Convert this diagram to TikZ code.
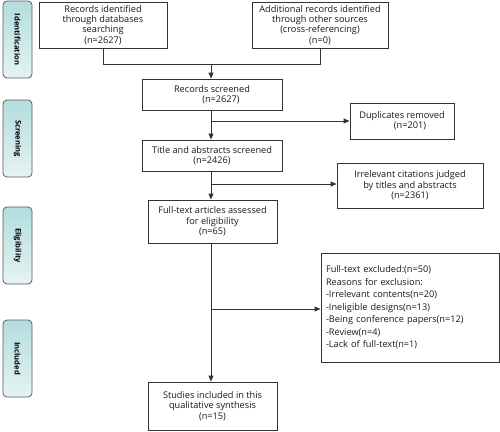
\documentclass[tikz,border=0pt]{standalone}
\usepackage{fontspec}
\setmainfont{Open Sans}
\usetikzlibrary{arrows.meta}
\definecolor{linec}{HTML}{333333}
\definecolor{tealtop}{HTML}{B2DDDE}
\definecolor{tealbot}{HTML}{E6F3F3}
\tikzset{
  box/.style={draw=linec, line width=0.9pt, align=center, inner sep=1pt,
    font=\fontsize{9.2}{10.3}\selectfont, text=black!90},
  side/.style={draw=linec!80, line width=0.8pt, rounded corners=4pt,
    top color=tealtop, bottom color=tealbot, minimum width=29pt, minimum height=77pt,
    inner sep=0pt},
  sidetext/.style={font=\bfseries\fontsize{7.6}{8}\selectfont, rotate=-90, text=black},
  conn/.style={draw=linec, line width=0.9pt},
  arr/.style={conn, -{Triangle[length=6pt,width=5pt]}}
}
\begin{document}
\begin{tikzpicture}[x=1pt,y=-1pt]
\useasboundingbox (0,0) rectangle (500,431);
% side labels
\node[side] (s1) at (17.5,39.5) {};
\node[sidetext] at (s1) {Identification};
\node[side] (s2) at (17.5,138.5) {};
\node[sidetext] at (s2) {Screening};
\node[side] (s3) at (17.5,245.5) {};
\node[sidetext] at (s3) {Eligibility};
\node[side] (s4) at (17.5,358.5) {};
\node[sidetext] at (s4) {Included};
% boxes
\node[box, minimum width=128pt, minimum height=46pt] (b1) at (103,25)
  {Records identified\\through databases\\searching\\(n=2627)};
\node[box, minimum width=136pt, minimum height=46pt] (b2) at (320,25)
  {Additional records identified\\through other sources\\(cross-referencing)\\(n=0)};
\node[box, minimum width=140pt, minimum height=31pt] (b3) at (212,94.5)
  {Records screened\\\hspace*{18pt}(n=2627)};
\node[box, minimum width=104pt, minimum height=36pt] (dup) at (402,121)
  {Duplicates removed\\\hspace*{16pt}(n=201)};
\node[box, minimum width=140pt, minimum height=31pt] (b4) at (212,155.5)
  {Title and abstracts screened\\(n=2426)};
\node[box, minimum width=146pt, minimum height=45pt] (irr) at (410,185.5)
  {Irrelevant citations judged\\by titles and abstracts\\(n=2361)};
\node[box, minimum width=129pt, minimum height=43pt] (b5) at (212.5,221.5)
  {Full-text articles assessed\\for eligibility\\(n=65)};
\node[box, minimum width=178pt, minimum height=109pt, align=left,
  text width=168pt, inner sep=4pt, font=\fontsize{9.2}{12.5}\selectfont] (exc) at (410,307.5)
  {Full-text excluded:(n=50)\\Reasons for exclusion:\\-Irrelevant contents(n=20)\\-Ineligible designs(n=13)\\-Being conference papers(n=12)\\-Review(n=4)\\-Lack of full-text(n=1)};
\node[box, minimum width=129pt, minimum height=48pt] (b6) at (212.5,406)
  {Studies included in this\\qualitative synthesis\\(n=15)};
% connectors
\coordinate (j1) at (211,64);
\draw[conn] (b1.south) -- (b1.south |- j1) -- (b2.south |- j1) -- (b2.south);
\draw[arr] (j1) -- (j1 |- b3.north);
\draw[arr] (b3.south -| j1) -- (j1 |- b4.north);
\coordinate (j2) at (211,121);
\draw[arr] (j2) -- (dup.west);
\draw[arr] (b4.south -| j1) -- (j1 |- b5.north);
\coordinate (j3) at (211,184);
\draw[arr] (j3) -- (j3 -| irr.west);
\draw[arr] (b5.south -| j1) -- (j1 |- b6.north);
\coordinate (j4) at (211,309);
\draw[arr] (j4) -- (j4 -| exc.west);
\end{tikzpicture}
\end{document}
